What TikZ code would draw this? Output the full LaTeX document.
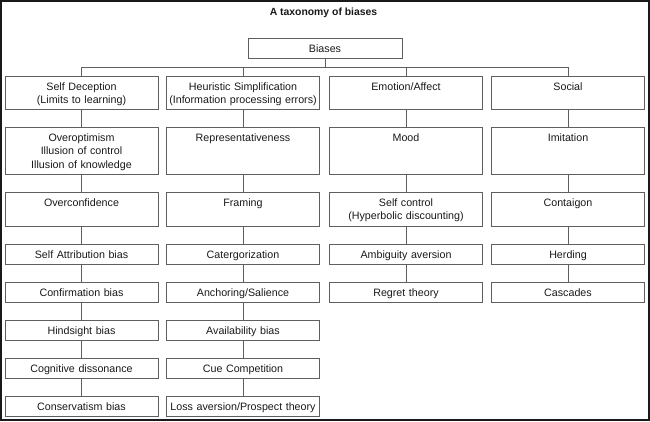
\documentclass[tikz,border=0pt]{standalone}
\usepackage{fontspec}
\setmainfont{Liberation Sans}
\definecolor{boxline}{RGB}{95,95,95}
\definecolor{inkcol}{RGB}{25,25,25}

\begin{document}
\begin{tikzpicture}[x=1pt,y=-1pt]
\useasboundingbox (0,0) rectangle (650,421);
\tikzstyle{every node}+=[inner sep=0pt]
\tikzstyle{bx}=[draw=boxline, line width=0.9pt, anchor=north, align=center, text width=153pt, text height=14pt, font=\fontsize{10.7}{13.5}\selectfont, text=inkcol]
\tikzstyle{catbox}=[bx, text depth=19pt]
\tikzstyle{tallbox}=[bx, text depth=33pt]
\tikzstyle{midbox}=[bx, text depth=20pt]
\tikzstyle{smallbox}=[bx, text depth=6pt]
\tikzstyle{link}=[draw=boxline, line width=0.9pt]
\draw [inkcol, line width=2pt] (1,1) rectangle (649,419.5);
\draw (323.5,13) node [font=\bfseries\fontsize{10.4}{12}\selectfont, text=inkcol] (title) {A taxonomy of biases};
\draw (325,38) node [smallbox, text width=154pt] (biases) {Biases};
% categories
\draw (81.5,76) node [catbox] (selfdec) {Self Deception\\(Limits to learning)};
\draw (243,76) node [catbox] (heur) {Heuristic Simplification\\(Information processing errors)};
\draw (406,76) node [catbox] (emo) {Emotion/Affect};
\draw (568,76) node [catbox] (social) {Social};
\draw [link] (biases.south) -- ++(0,9) -| (selfdec.north);
\draw [link] (biases.south) -- ++(0,9) -| (heur.north);
\draw [link] (biases.south) -- ++(0,9) -| (emo.north);
\draw [link] (biases.south) -- ++(0,9) -| (social.north);
% self deception
\draw (81.5,127) node [tallbox] (optim) {Overoptimism\\Illusion of control\\Illusion of knowledge};
\draw (81.5,192) node [midbox] (overconf) {Overconfidence};
\draw (81.5,244) node [smallbox] (attrib) {Self Attribution bias};
\draw (81.5,282) node [smallbox] (confirm) {Confirmation bias};
\draw (81.5,320) node [smallbox] (hindsight) {Hindsight bias};
\draw (81.5,358) node [smallbox] (cogdis) {Cognitive dissonance};
\draw (81.5,396) node [smallbox] (conserv) {Conservatism bias};
\draw [link] (selfdec.south) -- (optim.north);
\draw [link] (optim.south) -- (overconf.north);
\draw [link] (overconf.south) -- (attrib.north);
\draw [link] (attrib.south) -- (confirm.north);
\draw [link] (confirm.south) -- (hindsight.north);
\draw [link] (hindsight.south) -- (cogdis.north);
\draw [link] (cogdis.south) -- (conserv.north);
% heuristic simplification
\draw (243,127) node [tallbox] (repr) {Representativeness};
\draw (243,192) node [midbox] (framing) {Framing};
\draw (243,244) node [smallbox] (categ) {Catergorization};
\draw (243,282) node [smallbox] (anchor) {Anchoring/Salience};
\draw (243,320) node [smallbox] (avail) {Availability bias};
\draw (243,358) node [smallbox] (cue) {Cue Competition};
\draw (243,396) node [smallbox] (loss) {Loss aversion/Prospect theory};
\draw [link] (heur.south) -- (repr.north);
\draw [link] (repr.south) -- (framing.north);
\draw [link] (framing.south) -- (categ.north);
\draw [link] (categ.south) -- (anchor.north);
\draw [link] (anchor.south) -- (avail.north);
\draw [link] (avail.south) -- (cue.north);
\draw [link] (cue.south) -- (loss.north);
% emotion/affect
\draw (406,127) node [tallbox] (mood) {Mood};
\draw (406,192) node [midbox] (selfctl) {Self control\\(Hyperbolic discounting)};
\draw (406,244) node [smallbox] (ambig) {Ambiguity aversion};
\draw (406,282) node [smallbox] (regret) {Regret theory};
\draw [link] (emo.south) -- (mood.north);
\draw [link] (mood.south) -- (selfctl.north);
\draw [link] (selfctl.south) -- (ambig.north);
\draw [link] (ambig.south) -- (regret.north);
% social
\draw (568,127) node [tallbox] (imit) {Imitation};
\draw (568,192) node [midbox] (contag) {Contaigon};
\draw (568,244) node [smallbox] (herd) {Herding};
\draw (568,282) node [smallbox] (casc) {Cascades};
\draw [link] (social.south) -- (imit.north);
\draw [link] (imit.south) -- (contag.north);
\draw [link] (contag.south) -- (herd.north);
\draw [link] (herd.south) -- (casc.north);
\end{tikzpicture}
\end{document}
